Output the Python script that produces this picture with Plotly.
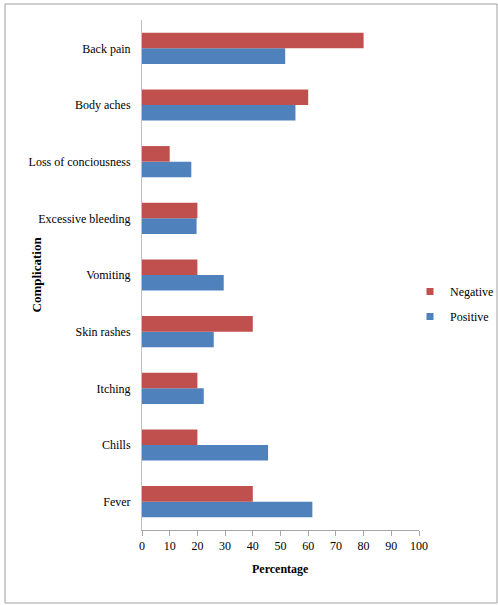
import plotly.graph_objects as go

# Complications, listed top to bottom as they appear on the chart
complications = ["Back pain", "Body aches", "Loss of conciousness", "Excessive bleeding",
                 "Vomiting", "Skin rashes", "Itching", "Chills", "Fever"]
negative = [80, 60, 10, 20, 20, 40, 20, 20, 40]
positive = [51.7, 55.4, 17.8, 19.7, 29.5, 25.9, 22.3, 45.5, 61.5]
x_ticks = [0, 10, 20, 30, 40, 50, 60, 70, 80, 90, 100]

# (name, values, colour, legend rank) - Positive drawn first so it sits lower in each pair
series = [("Positive", positive, "#4F81BD", 2), ("Negative", negative, "#C0504D", 1)]

W, H = 498, 605
L, R, T, B = 142, 79, 20, 75
pw, ph = W - L - R, H - T - B


def px_x(p):
    return (p - L) / pw


def px_y(p):
    return 1 - (p - T) / ph


FONT = "Liberation Serif"

fig = go.Figure()
for name, values, color, rank in series:
    fig.add_trace(go.Bar(y=complications, x=values, name=name, orientation="h",
                         legendgroup=name, showlegend=False,
                         marker=dict(color=color, line=dict(width=0))))
    # small square swatch for the legend entry
    fig.add_trace(go.Scatter(x=[None], y=[None], mode="markers", name=name,
                             legendgroup=name, showlegend=True, legendrank=rank,
                             marker=dict(symbol="square", size=7, color=color)))

fig.update_layout(
    width=W, height=H,
    margin=dict(l=L, r=R, t=T, b=B, autoexpand=False),
    paper_bgcolor="white", plot_bgcolor="white",
    barmode="group", bargap=0.45, bargroupgap=0,
    font=dict(family=FONT, size=12, color="#000000"),
    showlegend=True,
    legend=dict(traceorder="grouped", x=px_x(410), y=px_y(277),
                xanchor="left", yanchor="top",
                font=dict(family=FONT, size=12), itemwidth=30, tracegroupgap=6,
                bgcolor="rgba(0,0,0,0)"),
    xaxis=dict(range=[0, 100], tickvals=x_ticks, ticks="outside", ticklen=5,
               tickcolor="#A6A6A6", showline=True, linecolor="#A6A6A6", linewidth=1,
               showgrid=False, zeroline=False, tickfont=dict(family=FONT, size=12)),
    yaxis=dict(categoryorder="array", categoryarray=complications[::-1],
               showline=True, linecolor="#BFBFBF", linewidth=1, showgrid=False,
               ticks="", ticklabelstandoff=8, tickfont=dict(family=FONT, size=12)),
)

# Axis titles
fig.add_annotation(text="<b>Percentage</b>", xref="paper", yref="paper",
                   x=px_x(280), y=px_y(578), showarrow=False,
                   font=dict(family=FONT, size=12))
fig.add_annotation(text="<b>Complication</b>", xref="paper", yref="paper",
                   x=px_x(26), y=px_y(275), showarrow=False, textangle=-90,
                   font=dict(family=FONT, size=13))

# Outer frame around the whole chart
fig.add_shape(type="rect", xref="paper", yref="paper",
              x0=px_x(5), x1=px_x(497), y0=px_y(603), y1=px_y(4),
              line=dict(color="#A0A0A0", width=1), fillcolor="rgba(0,0,0,0)", layer="below")

fig.write_html("out.html")
